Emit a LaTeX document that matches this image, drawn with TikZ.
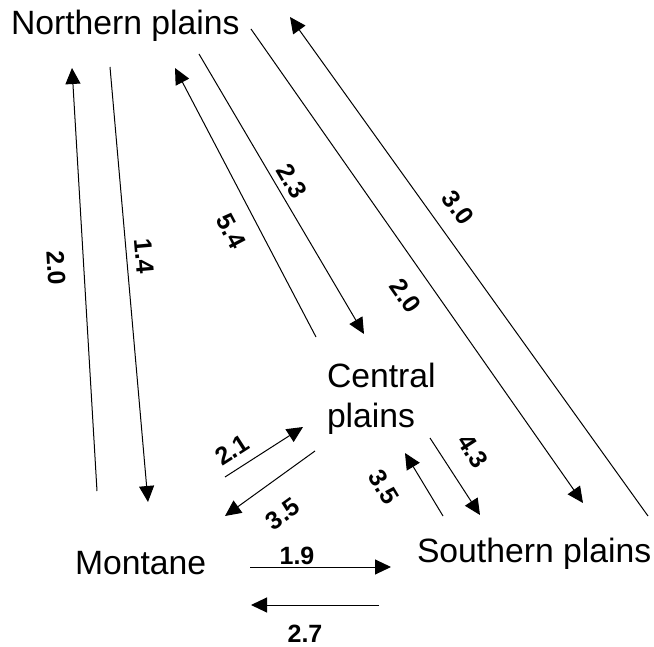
\documentclass[tikz,border=0pt]{standalone}
\usepackage{fontspec}
\setmainfont{Liberation Sans}
\usetikzlibrary{arrows.meta}
\tikzset{
  region/.style={inner sep=0pt, outer sep=0pt, font=\fontsize{33.7}{39}\selectfont},
  flow/.style={line width=1pt, -{Triangle[length=16pt,width=15pt]}},
  rate/.style={inner sep=0pt, font=\fontsize{25}{28}\selectfont\bfseries}
}
\begin{document}
\begin{tikzpicture}[x=1pt,y=-1pt]
\useasboundingbox (0,0) rectangle (654,647);
% regions
\node[region, anchor=base west] (north) at (11,35) {Northern plains};
\node[region, anchor=base west] (centralA) at (327,388) {Central};
\node[region, anchor=base west] (centralB) at (327,427) {plains};
\node[region, anchor=base west] (montane) at (75,574) {Montane};
\node[region, anchor=base west] (southern) at (417,562) {Southern plains};
% connector end points
\coordinate (a1s) at (97,491);  \coordinate (a1e) at (72,68);
\coordinate (a2s) at (110,67);  \coordinate (a2e) at (148,502);
\coordinate (a3s) at (316,337); \coordinate (a3e) at (175,68);
\coordinate (a4s) at (199,54);  \coordinate (a4e) at (364,334);
\coordinate (a5s) at (251,29);  \coordinate (a5e) at (583,503);
\coordinate (a6s) at (648,516); \coordinate (a6e) at (290,17);
\coordinate (a7s) at (225,477); \coordinate (a7e) at (303,427);
\coordinate (a8s) at (315,451); \coordinate (a8e) at (225,516);
\coordinate (a9s) at (250,567); \coordinate (a9e) at (391,567);
\coordinate (a10s) at (379,605); \coordinate (a10e) at (251,605);
\coordinate (a11s) at (443,516); \coordinate (a11e) at (405,453);
\coordinate (a12s) at (430,438); \coordinate (a12e) at (480,515);
% connectors
\draw[flow] (a1s) -- (a1e);
\draw[flow] (a2s) -- (a2e);
\draw[flow] (a3s) -- (a3e);
\draw[flow] (a4s) -- (a4e);
\draw[flow] (a5s) -- (a5e);
\draw[flow] (a6s) -- (a6e);
\draw[flow] (a7s) -- (a7e);
\draw[flow] (a8s) -- (a8e);
\draw[flow] (a9s) -- (a9e);
\draw[flow] (a10s) -- (a10e);
\draw[flow] (a11s) -- (a11e);
\draw[flow] (a12s) -- (a12e);
% rates
\node[rate, rotate=-86.6] (l1) at (56,268) {2.0};
\node[rate, rotate=-85] (l2) at (144,256) {1.4};
\node[rate, rotate=-62.3] (l3) at (231,231) {5.4};
\node[rate, rotate=-59.5] (l4) at (292,181) {2.3};
\node[rate, rotate=-55] (l5) at (406,296) {2.0};
\node[rate, rotate=-54.3] (l6) at (458,208) {3.0};
\node[rate, rotate=32.7] (l7) at (232,450) {2.1};
\node[rate, rotate=35.8] (l8) at (283,514) {3.5};
\node[rate] (l9) at (297,556) {1.9};
\node[rate] (l10) at (305,634) {2.7};
\node[rate, rotate=-58.9] (l11) at (384,487) {3.5};
\node[rate, rotate=-57] (l12) at (473,451) {4.3};
\end{tikzpicture}
\end{document}
